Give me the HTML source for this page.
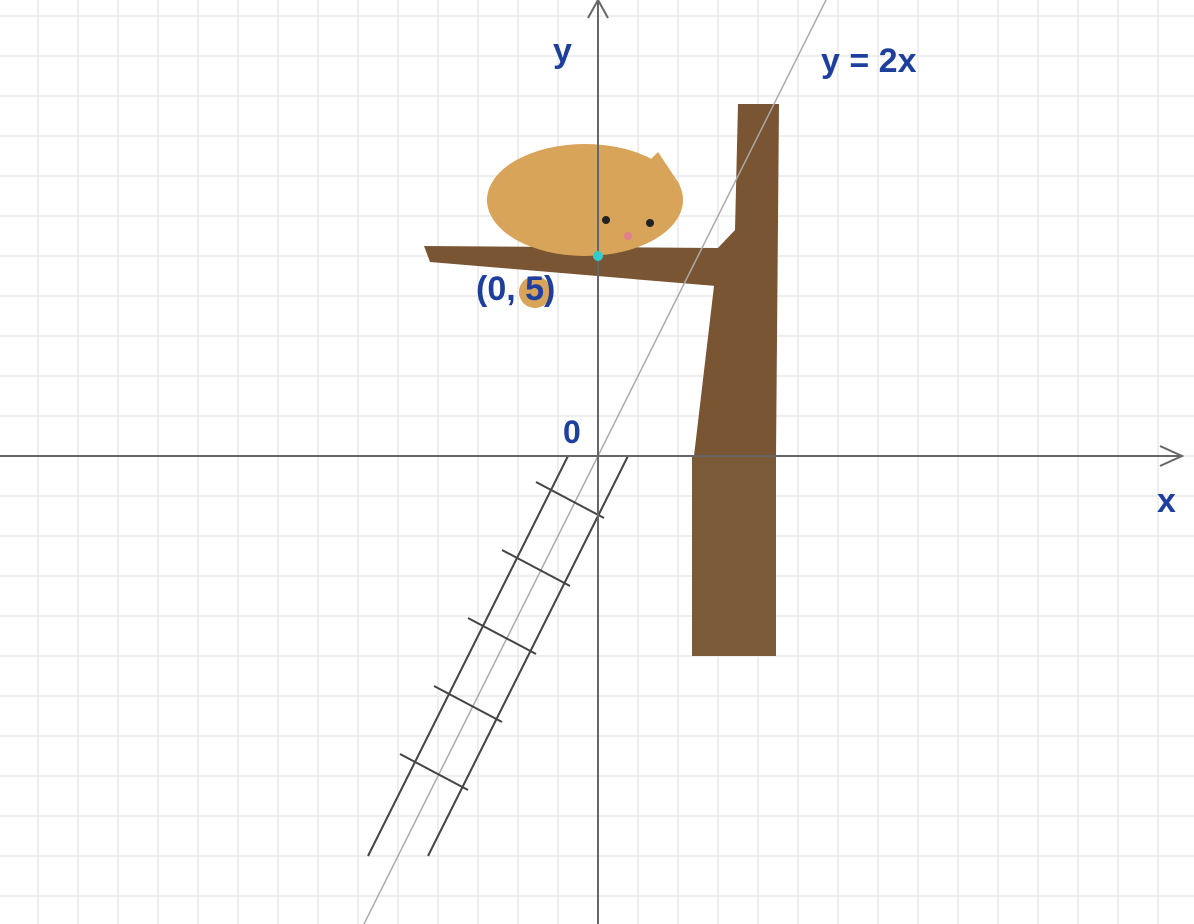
<!DOCTYPE html>
<html><head><meta charset="utf-8"><style>
html,body{margin:0;padding:0;background:#fff;overflow:hidden;width:1194px;height:924px}
svg{display:block}
text{font-family:"Liberation Sans",sans-serif;font-weight:bold;fill:#1e3f9c}
</style></head><body>
<svg id="c" width="1194" height="924" xmlns="http://www.w3.org/2000/svg">
<g id="grid"></g>
<g id="tree">
  <rect x="692" y="456" width="84" height="200" fill="#7b5a38"/>
  <polygon points="738,104 779,104 776,456 694,456 714,286 716,250 735,230" fill="#7a5533"/>
  <polygon points="424,246 720,248 716,286 430,262" fill="#7a5533"/>
</g>
<g id="cat">
  <ellipse cx="535" cy="292" rx="16" ry="16" fill="#d8a45a"/>
  <ellipse cx="585" cy="200" rx="98" ry="56" fill="#d8a45a"/>
  <polygon points="640,170 658,152 680,185" fill="#d8a45a"/>
  <circle cx="606" cy="220" r="4" fill="#222"/><circle cx="650" cy="223" r="4" fill="#222"/>
  <circle cx="628" cy="236" r="4" fill="#e08090"/>
</g>
<line id="fn" stroke="#aaa" stroke-width="1.5"/>
<g id="ladder" stroke="#444" stroke-width="2"></g>
<g>
  <line x1="0" y1="456" x2="1182" y2="456" stroke="#666" stroke-width="2"/>
  <polyline points="1160,446 1182,456 1160,466" fill="none" stroke="#666" stroke-width="2"/>
</g>
<g>
  <line x1="598" y1="0" x2="598" y2="924" stroke="#666" stroke-width="2"/>
  <polyline points="588,18 598,0 608,18" fill="none" stroke="#666" stroke-width="2"/>
</g>
<circle cx="598" cy="256" r="5" fill="#3cc"/>
<text x="553" y="62" font-size="34">y</text>
<text x="1157" y="512" font-size="34">x</text>
<text x="563" y="443" font-size="32">0</text>
<text x="821" y="72" font-size="34">y = 2x</text>
<text x="476" y="300" font-size="34">(0, 5)</text>
</svg>
<script>
const unit=40, ox=598, oy=456;
const slope=[2];
const pointY=[5];
const rungs=[1.1,2.8,4.5,6.2,7.9];
const X=v=>ox+v*unit, Y=v=>oy-v*unit;
const g=document.getElementById('grid');
for(let x=ox%unit;x<1194;x+=unit){const l=document.createElementNS('http://www.w3.org/2000/svg','line');


l.setAttribute('x1',x);l.setAttribute('x2',x);l.setAttribute('y1',0);l.setAttribute('y2',924);l.setAttribute('stroke','#eeeeee');l.setAttribute('stroke-width','2');g.appendChild(l);}
for(let y=oy%unit;y<924;y+=unit){const l=document.createElementNS('http://www.w3.org/2000/svg','line');


l.setAttribute('x1',0);l.setAttribute('x2',1194);l.setAttribute('y1',y);l.setAttribute('y2',y);l.setAttribute('stroke','#eeeeee');l.setAttribute('stroke-width','2');g.appendChild(l);}
const f=document.getElementById('fn'), m=slope[0];
f.setAttribute('x1',X(-11.6));f.setAttribute('y1',Y(-11.6*m));f.setAttribute('x2',X(5.75));f.setAttribute('y2',Y(5.75*m));
const lad=document.getElementById('ladder');
function ln(a,b,c,d,n){const l=document.createElementNS('http://www.w3.org/2000/svg','line');


l.setAttribute('x1',a);l.setAttribute('y1',b);l.setAttribute('x2',c);l.setAttribute('y2',d);lad.appendChild(l);}
ln(X(-0.75),Y(0),X(-5.75),Y(-10),'ladder-rail-left');
ln(X(0.75),Y(0),X(-4.25),Y(-10),'ladder-rail-right');
rungs.forEach(r=>{const cx=X(-r/2), cy=Y(-r);ln(cx-40,cy-18,cx+28,cy+18,'ladder-rung');});
</script>
</body></html>
